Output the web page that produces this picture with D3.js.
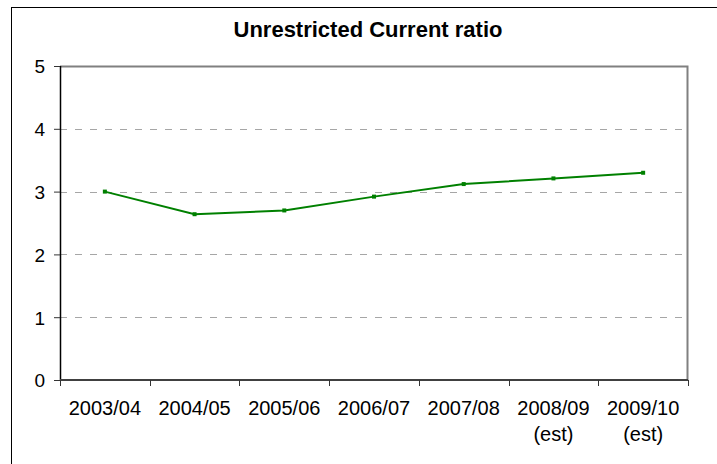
<!DOCTYPE html>
<html>
<head>
<meta charset="utf-8">
<script src="https://cdn.jsdelivr.net/npm/d3@7"></script>
<style>
  html, body { margin: 0; padding: 0; background: #fff; }
  svg { display: block; }
  text { font-family: "Liberation Sans", Arial, sans-serif; fill: #000; }
</style>
</head>
<body>
<div id="chart"></div>
<script>
// Unrestricted current ratio by financial year
const categories = ["2003/04", "2004/05", "2005/06", "2006/07", "2007/08", "2008/09", "2009/10"];
const subLabels = ["", "", "", "", "", "(est)", "(est)"];
const ratios = [3.00, 2.64, 2.70, 2.92, 3.12, 3.21, 3.30];
const yTicks = [0, 1, 2, 3, 4, 5];
const titleText = "Unrestricted Current ratio";

const W = 717, H = 464;
const plot = { left: 60, right: 688, top: 66, bottom: 380 };

const svg = d3.select("#chart").append("svg")
  .attr("width", W).attr("height", H);

// chart frame
svg.append("rect")
  .attr("x", 11.5).attr("y", 7.5)
  .attr("width", W + 20).attr("height", H + 20)
  .attr("fill", "#fff").attr("stroke", "#000").attr("stroke-width", 1);

const x = d3.scaleBand().domain(categories)
  .range([plot.left, plot.right]).paddingInner(0).paddingOuter(0);
const y = d3.scaleLinear().domain([0, 5]).range([plot.bottom, plot.top]);

// plot area border (top and right)
svg.append("path")
  .attr("d", `M${plot.left},${plot.top + 0.5}H${plot.right - 0.5}V${plot.bottom}`)
  .attr("fill", "none").attr("stroke", "#808080").attr("stroke-width", 2);

// dashed gridlines
svg.append("g").selectAll("line")
  .data(yTicks.filter(d => d > 0 && d < 5))
  .join("line")
  .attr("x1", plot.left).attr("x2", plot.right - 1)
  .attr("y1", d => Math.round(y(d)) + 0.5).attr("y2", d => Math.round(y(d)) + 0.5)
  .attr("stroke", "#a6a6a6").attr("stroke-width", 1.2)
  .attr("stroke-dasharray", "7,8");

// y axis
const yAxis = svg.append("g")
  .attr("transform", `translate(${plot.left},0)`)
  .call(d3.axisLeft(y).tickValues(yTicks).tickSize(6).tickPadding(9).tickFormat(d3.format("d")));
yAxis.select(".domain").attr("stroke", "#000").attr("stroke-width", 1.5)
  .attr("d", `M0.5,${plot.top}V${plot.bottom}`);
yAxis.selectAll(".tick line").attr("stroke", "#333");
yAxis.selectAll(".tick text")
  .style("font-size", "19px").attr("dy", "0.36em");

// x axis
const tickPositions = categories.map(c => x(c)).concat([plot.right]);
const xg = svg.append("g");
xg.append("line")
  .attr("x1", plot.left).attr("x2", plot.right)
  .attr("y1", plot.bottom).attr("y2", plot.bottom)
  .attr("stroke", "#404040").attr("stroke-width", 2);
xg.selectAll("line.tk").data(tickPositions).join("line")
  .attr("class", "tk")
  .attr("x1", d => Math.round(d) + 0.5).attr("x2", d => Math.round(d) + 0.5)
  .attr("y1", plot.bottom).attr("y2", plot.bottom + 6)
  .attr("stroke", "#333").attr("stroke-width", 1);

const labels = xg.selectAll("text.cat").data(categories).join("text")
  .attr("class", "cat")
  .attr("x", d => x(d) + x.bandwidth() / 2)
  .attr("y", 415)
  .attr("text-anchor", "middle")
  .style("font-size", "20px")
  .text(d => d);
xg.selectAll("text.sub").data(categories.map((c, i) => ({ c, s: subLabels[i] })).filter(d => d.s))
  .join("text")
  .attr("class", "sub")
  .attr("x", d => x(d.c) + x.bandwidth() / 2)
  .attr("y", 441)
  .attr("text-anchor", "middle")
  .style("font-size", "20px")
  .text(d => d.s);

// series line
const pts = categories.map((c, i) => ({ c, v: ratios[i] }));
const line = d3.line().x(d => x(d.c) + x.bandwidth() / 2).y(d => y(d.v));
svg.append("path").datum(pts)
  .attr("d", line)
  .attr("fill", "none").attr("stroke", "#008000").attr("stroke-width", 2);
svg.append("g").selectAll("rect").data(pts).join("rect")
  .attr("x", d => x(d.c) + x.bandwidth() / 2 - 2)
  .attr("y", d => y(d.v) - 2)
  .attr("width", 4).attr("height", 4)
  .attr("fill", "#008000");

// title
svg.append("text")
  .attr("x", 368).attr("y", 37)
  .attr("text-anchor", "middle")
  .style("font-size", "22px").style("font-weight", "bold")
  .text(titleText);
</script>
</body>
</html>
